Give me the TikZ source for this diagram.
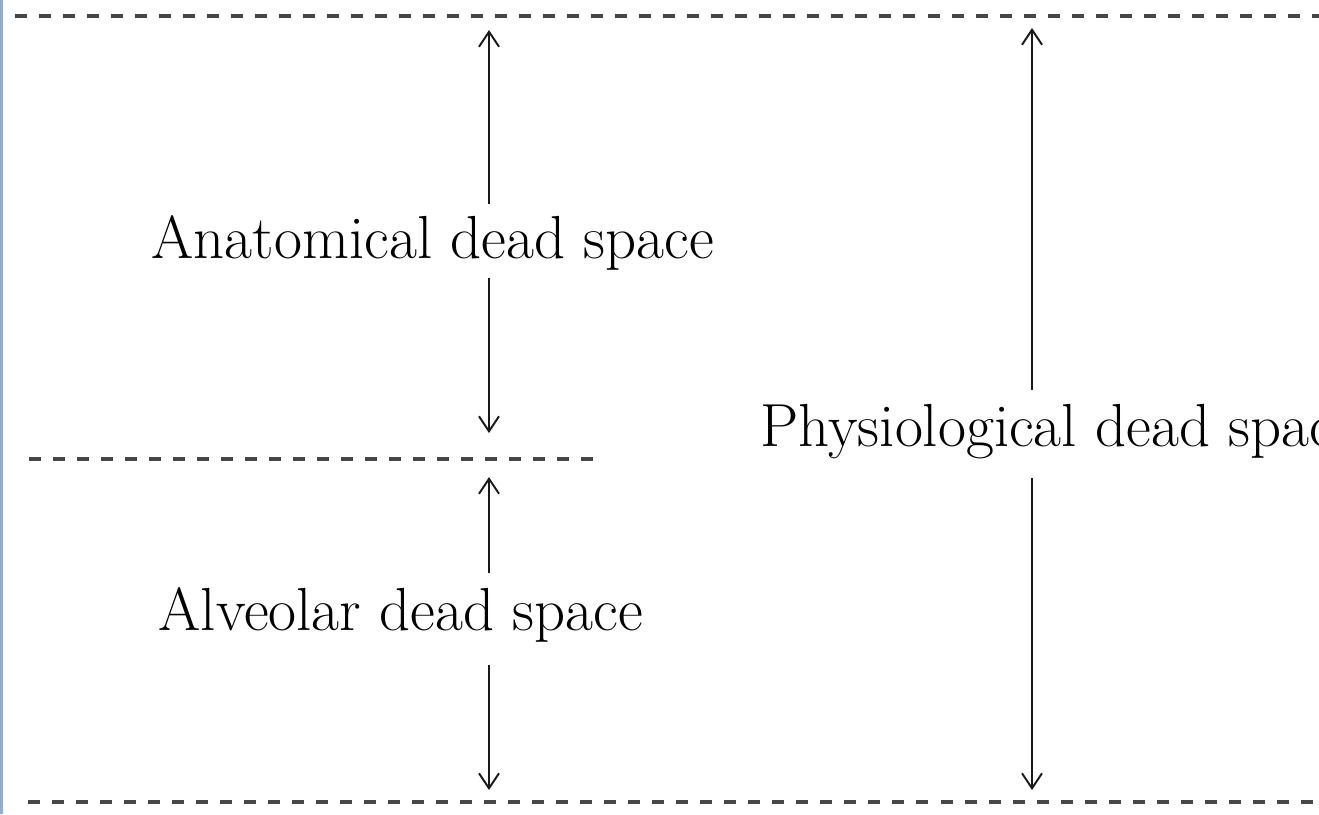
\documentclass[tikz,border=0pt]{standalone}
\usetikzlibrary{arrows.meta, positioning}
\definecolor{edgeblue}{RGB}{150,172,204}

\begin{document}
\begin{tikzpicture}[
    x=0.01cm, y=-0.01cm,
    lbl/.style={anchor=base west, inner sep=0pt, font=\fontsize{17.3}{21}\selectfont},
    level/.style={draw=black!72, line width=0.95pt, dash pattern=on 0.12cm off 0.12cm},
    arr/.style={-{Straight Barb[length=0.15cm, width=0.2cm]}, line width=0.55pt, draw=black!90},
    frame/.style={draw=edgeblue, line width=0.9pt}
]
\clip (0,0) rectangle (1319,814);

% left frame edge
\coordinate (fr_t) at (1.5,0);
\coordinate (fr_b) at (1.5,814);
\draw[frame] (fr_t) -- (fr_b);

% dashed levels
\coordinate (top_l) at (15,16);
\coordinate (top_r) at (1319,16);
\coordinate (mid_l) at (29,459);
\coordinate (mid_r) at (600,459);
\coordinate (bot_l) at (28,802);
\coordinate (bot_r) at (1319,802);
\draw[level] (top_l) -- (top_r);
\draw[level] (mid_l) -- (mid_r);
\draw[level] (bot_l) -- (bot_r);

% labels
\node[lbl] (anat)   at (151,258) {Anatomical dead space};
\node[lbl] (alveo)  at (158,630) {Alveolar dead space};
\node[lbl] (physio) at (760,446) {Physiological dead space};

% arrow tips
\coordinate (anat_up)   at (489,30);
\coordinate (anat_dn)   at (489,433);
\coordinate (alveo_up)  at (489,477);
\coordinate (alveo_dn)  at (489,790);
\coordinate (physio_up) at (1032,28);
\coordinate (physio_dn) at (1032,790);

\draw[arr, shorten <=0.10cm] (anat.north -| anat_up)     -- (anat_up);
\draw[arr, shorten <=0.07cm] (anat.south -| anat_dn)     -- (anat_dn);
\draw[arr, shorten <=0.13cm] (alveo.north -| alveo_up)   -- (alveo_up);
\draw[arr, shorten <=0.22cm] (alveo.south -| alveo_dn)   -- (alveo_dn);
\draw[arr, shorten <=0.13cm] (physio.north -| physio_up) -- (physio_up);
\draw[arr, shorten <=0.19cm] (physio.south -| physio_dn) -- (physio_dn);
\end{tikzpicture}
\end{document}
